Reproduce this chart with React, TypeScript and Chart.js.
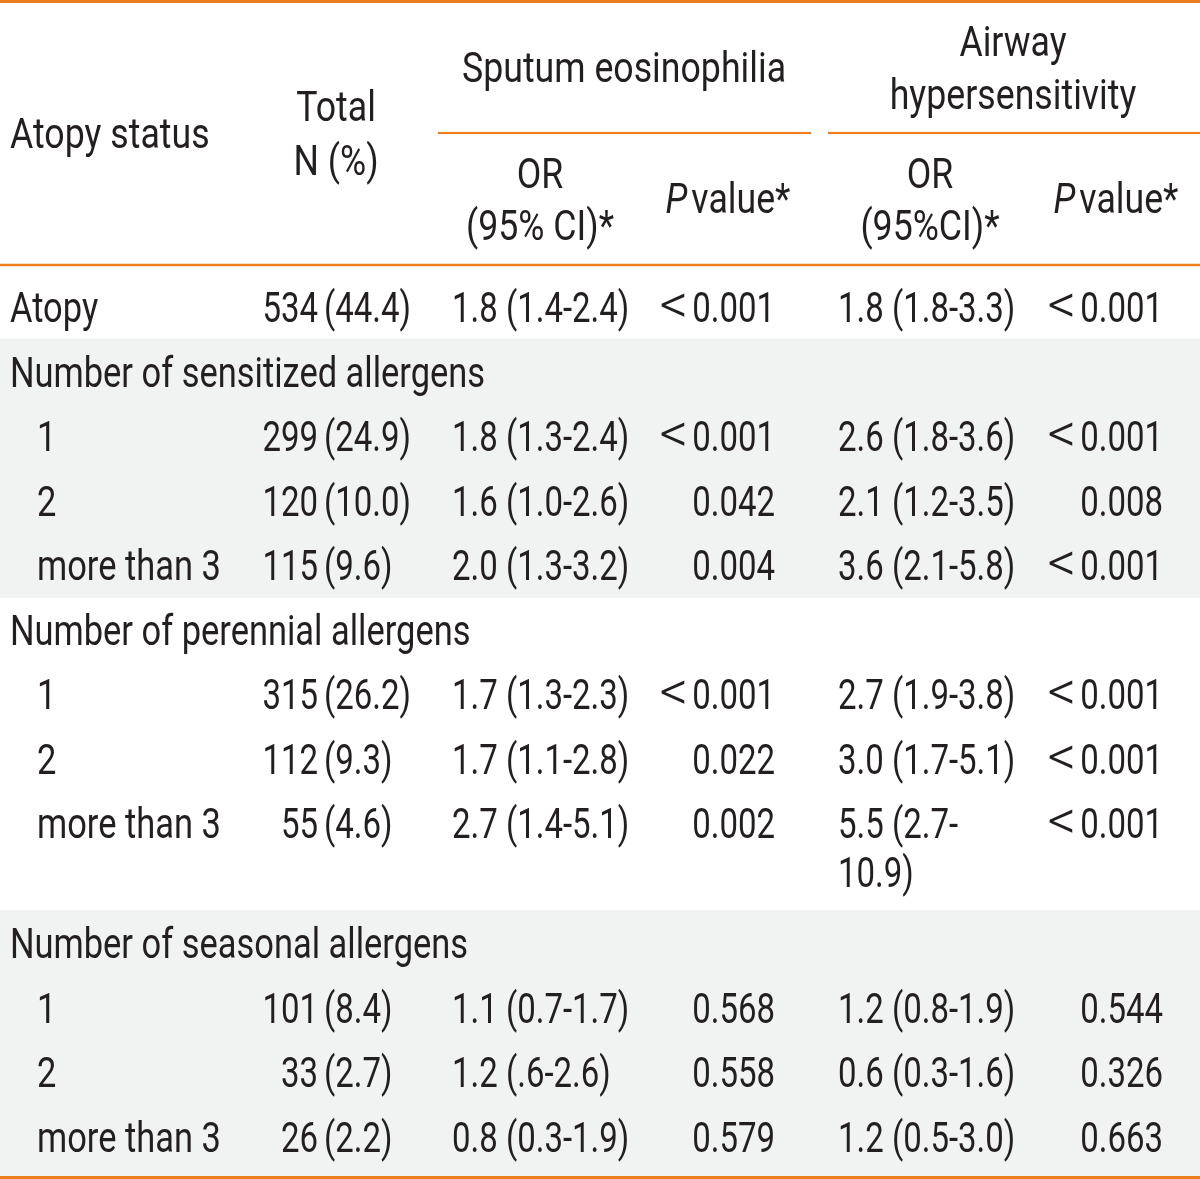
import React, { useEffect, useRef } from "react";
import { Chart, registerables } from "chart.js";

Chart.register(...registerables);

// ---------- data ----------
const rowLabels = [
  "Atopy",
  "Number of sensitized allergens",
  "1",
  "2",
  "more than 3",
  "Number of perennial allergens",
  "1",
  "2",
  "more than 3",
  "Number of seasonal allergens",
  "1",
  "2",
  "more than 3",
];
const rowLevel = [0, 0, 1, 1, 1, 0, 1, 1, 1, 0, 1, 1, 1];
const groupHeaderRows = [1, 5, 9];
const totalN = ["534", null, "299", "120", "115", null, "315", "112", "55", null, "101", "33", "26"];
const totalPct = ["(44.4)", null, "(24.9)", "(10.0)", "(9.6)", null, "(26.2)", "(9.3)", "(4.6)", null, "(8.4)", "(2.7)", "(2.2)"];
const sputumOR = [
  "1.8 (1.4-2.4)", null, "1.8 (1.3-2.4)", "1.6 (1.0-2.6)", "2.0 (1.3-3.2)", null,
  "1.7 (1.3-2.3)", "1.7 (1.1-2.8)", "2.7 (1.4-5.1)", null,
  "1.1 (0.7-1.7)", "1.2 (.6-2.6)", "0.8 (0.3-1.9)",
];
const sputumP = ["<0.001", null, "<0.001", "0.042", "0.004", null, "<0.001", "0.022", "0.002", null, "0.568", "0.558", "0.579"];
const airwayOR = [
  "1.8 (1.8-3.3)", null, "2.6 (1.8-3.6)", "2.1 (1.2-3.5)", "3.6 (2.1-5.8)", null,
  "2.7 (1.9-3.8)", "3.0 (1.7-5.1)", "5.5 (2.7-\n10.9)", null,
  "1.2 (0.8-1.9)", "0.6 (0.3-1.6)", "1.2 (0.5-3.0)",
];
const airwayP = ["<0.001", null, "<0.001", "0.008", "<0.001", null, "<0.001", "<0.001", "<0.001", null, "0.544", "0.326", "0.663"];

const headerRowLabel = "Atopy status";
const headerTotal = ["Total", "N (%)"];
const headerGroup1 = ["Sputum eosinophilia"];
const headerGroup2 = ["Airway", "hypersensitivity"];
const headerOR1 = ["OR", "(95% CI)*"];
const headerOR2 = ["OR", "(95%CI)*"];
const headerP = "value*";

// ---------- styles / layout ----------
const W = 1200;
const H = 1179;
const ORANGE = "#EC7E1E";
const BAND = "#F1F3F3";
const INK = "#231F20";
const FONT = "Roboto, 'Liberation Sans', sans-serif";
const FS = 42;
const SX_HEAD = 0.85;
const SX_TEXT = 0.82;
const SX_NUM = 0.785;

const tablePlugin = {
  id: "tablePlugin",
  afterDraw(chart: any) {
    const { ctx } = chart;
    const xs = chart.scales.x;
    const ys = chart.scales.y;
    const X = (v: number) => xs.getPixelForValue(v);
    const Y = (v: number) => ys.getPixelForValue(v);

    const text = (s: string, x: number, y: number, align: string, sx: number, italic = false, fs = FS, weight = 400) => {
      ctx.save();
      ctx.font = `${italic ? "italic " : ""}${weight} ${fs}px ${FONT}`;
      ctx.fillStyle = INK;
      ctx.textBaseline = "alphabetic";
      ctx.textAlign = align;
      ctx.translate(X(x), Y(y));
      ctx.scale(sx, 1);
      ctx.fillText(s, 0, 0);
      ctx.restore();
    };
    const width = (s: string, sx: number, italic = false, fs = FS) => {
      ctx.save();
      ctx.font = `${italic ? "italic " : ""}400 ${fs}px ${FONT}`;
      const w = ctx.measureText(s).width * sx;
      ctx.restore();
      return w;
    };
    const rule = (x0: number, x1: number, y: number, t: number) => {
      ctx.save();
      ctx.fillStyle = ORANGE;
      ctx.fillRect(X(x0), Y(y) - t / 2, X(x1) - X(x0), t);
      ctx.restore();
    };
    // right-aligned p value with a full-size "<" sign
    const pval = (s: string, x: number, y: number) => {
      if (s.startsWith("<")) {
        const rest = s.slice(1);
        text(rest, x, y, "right", SX_NUM);
        const rw = width(rest, SX_NUM);
        text("<", x - rw - 4, y + 1, "right", 1.0, false, 56, 300);
      } else {
        text(s, x, y, "right", SX_NUM);
      }
    };

    // row baselines
    const pitch = 64.5;
    const lineH = 49;
    const baselines: number[] = [];
    let b = 322;
    const cols = [totalN, sputumOR, sputumP, airwayOR, airwayP];
    rowLabels.forEach((_, i) => {
      baselines.push(b);
      const lines = Math.max(
        1,
        ...cols.map((c) => (c[i] ? String(c[i]).split("\n").length : 1))
      );
      b += pitch + (lines - 1) * 55.5;
    });

    // shaded bands for alternate groups
    const groups: number[][] = [];
    groupHeaderRows.forEach((g, k) => {
      const end = k + 1 < groupHeaderRows.length ? groupHeaderRows[k + 1] - 1 : rowLabels.length - 1;
      groups.push([g, end]);
    });
    groups.forEach(([g0, g1], k) => {
      if (k % 2 === 0) {
        const top = Y(baselines[g0] - 48);
        const bottom = k === groups.length - 1 ? Y(1176) : Y(baselines[g1] + 18);
        ctx.save();
        ctx.fillStyle = BAND;
        ctx.fillRect(X(0), top, X(W) - X(0), bottom - top);
        ctx.restore();
      }
    });

    // rules
    rule(0, W, 1.5, 3);
    rule(438, 811, 133, 2.2);
    rule(828, W, 133, 2.2);
    rule(0, W, 265, 2.5);
    rule(0, W, 1177.5, 3);

    // header
    text(headerRowLabel, 10, 148, "left", SX_HEAD);
    text(headerTotal[0], 336, 121, "center", SX_HEAD);
    text(headerTotal[1], 336, 175, "center", SX_HEAD);
    text(headerGroup1[0], 624, 82, "center", SX_HEAD);
    text(headerGroup2[0], 1013, 56, "center", SX_HEAD);
    text(headerGroup2[1], 1013, 109, "center", SX_HEAD);
    text(headerOR1[0], 540, 188, "center", SX_HEAD);
    text(headerOR1[1], 540, 240, "center", SX_HEAD);
    text(headerOR2[0], 930, 188, "center", SX_HEAD);
    text(headerOR2[1], 930, 240, "center", SX_HEAD);
    const pW = width("P", SX_HEAD, true);
    const vW = width(headerP, SX_HEAD);
    const gap = 4;
    [728, 1116].forEach((cx) => {
      const tot = pW + gap + vW;
      const left = cx - tot / 2;
      text("P", left, 213, "left", SX_HEAD, true);
      text(headerP, left + pW + gap, 213, "left", SX_HEAD);
    });

    // body
    rowLabels.forEach((lab, i) => {
      const y = baselines[i];
      text(lab, rowLevel[i] ? 37 : 10, y, "left", SX_TEXT);
      if (totalN[i]) {
        text(totalN[i] as string, 318, y, "right", SX_NUM);
        text(totalPct[i] as string, 324, y, "left", SX_NUM);
      }
      const cell = (v: string | null, x: number, align: string) => {
        if (!v) return;
        v.split("\n").forEach((ln, k) => text(ln, x, y + k * lineH, align, SX_NUM));
      };
      cell(sputumOR[i], 452, "left");
      if (sputumP[i]) pval(sputumP[i] as string, 775, y);
      cell(airwayOR[i], 838, "left");
      if (airwayP[i]) pval(airwayP[i] as string, 1163, y);
    });
  },
};

export default function App() {
  const ref = useRef<HTMLCanvasElement | null>(null);
  useEffect(() => {
    if (!ref.current) return;
    const chart = new Chart(ref.current, {
      type: "scatter",
      data: { datasets: [{ data: [], pointRadius: 0 }] },
      options: {
        animation: false,
        responsive: true,
        maintainAspectRatio: false,
        layout: { padding: 0 },
        plugins: { legend: { display: false }, tooltip: { enabled: false } },
        scales: {
          x: { type: "linear", min: 0, max: W, display: false },
          y: { type: "linear", min: 0, max: H, reverse: true, display: false },
        },
      },
      plugins: [tablePlugin],
    });
    return () => chart.destroy();
  }, []);
  return (
    <div style={{ position: "absolute", left: 0, top: 0, width: W, height: H, background: "#fff" }}>
      <canvas ref={ref} />
    </div>
  );
}
